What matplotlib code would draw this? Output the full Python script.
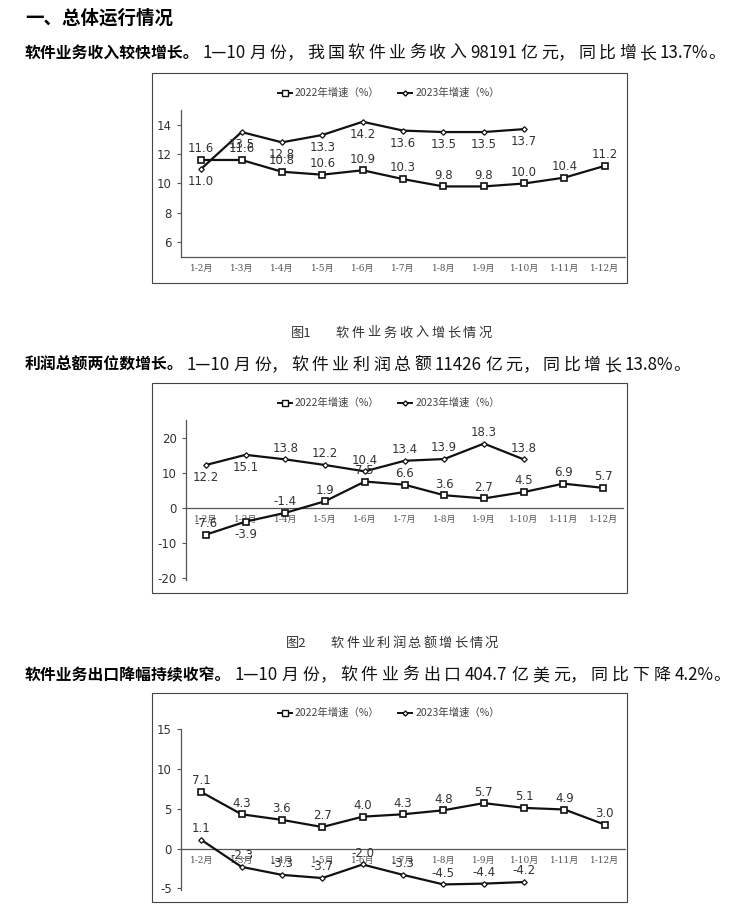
import matplotlib
matplotlib.use("Agg")
import matplotlib.pyplot as plt
from matplotlib.patches import Rectangle
from matplotlib.lines import Line2D

W, H = 741, 905
CJK = ['Noto Sans CJK SC', 'DejaVu Sans']
SERIF = ['DejaVu Serif', 'Noto Sans CJK SC']
plt.rcParams['font.family'] = CJK
plt.rcParams['axes.unicode_minus'] = False

# categories
months = ['1-2月', '1-3月', '1-4月', '1-5月', '1-6月', '1-7月',
          '1-8月', '1-9月', '1-10月', '1-11月', '1-12月']

# chart 1: software business revenue growth
rev_2022 = [11.6, 11.6, 10.8, 10.6, 10.9, 10.3, 9.8, 9.8, 10.0, 10.4, 11.2]
rev_2023 = [11.0, 13.5, 12.8, 13.3, 14.2, 13.6, 13.5, 13.5, 13.7]

# chart 2: total profit growth
profit_2022 = [-7.6, -3.9, -1.4, 1.9, 7.5, 6.6, 3.6, 2.7, 4.5, 6.9, 5.7]
profit_2023 = [12.2, 15.1, 13.8, 12.2, 10.4, 13.4, 13.9, 18.3, 13.8]

# chart 3: software export growth
export_2022 = [7.1, 4.3, 3.6, 2.7, 4.0, 4.3, 4.8, 5.7, 5.1, 4.9, 3.0]
export_2023 = [1.1, -2.3, -3.3, -3.7, -2.0, -3.3, -4.5, -4.4, -4.2]

LINE_C = '#111111'
TEXT_C = '#333333'


def fx(px):
    return px / W


def fy(py):
    return 1 - py / H


fig = plt.figure(figsize=(W / 100, H / 100), dpi=100)
renderer = fig.canvas.get_renderer()


def is_wide(c):
    return '\u3000' <= c <= '\u9fff' or '\uff00' <= c <= '\uffef'


def tokens(s):
    out = []
    for c in s:
        if is_wide(c) or not out or is_wide(out[-1][-1]):
            out.append(c)
        else:
            out[-1] += c
    return out


def spaced_text(x0, x1, y, s, **kw):
    # loosely set line: each CJK char placed on its own with extra space,
    # runs of digits kept together, no extra space before ，。
    toks = tokens(s)
    widths = []
    for tk in toks:
        t = fig.text(0, 0, tk, **kw)
        widths.append(t.get_window_extent(renderer).width)
        t.remove()
    spaced = [toks[i + 1] not in ('，', '。') for i in range(len(toks) - 1)]
    gap = (x1 - x0 - sum(widths)) / max(sum(spaced), 1)
    x = x0
    for i, (tk, w) in enumerate(zip(toks, widths)):
        if tk.strip():
            fig.text(fx(x), fy(y), tk, va='center', ha='left', **kw)
        x += w
        if i < len(spaced) and spaced[i]:
            x += gap


def paragraph(y, bold_part, rest, end_x):
    t = fig.text(fx(25), fy(y), bold_part, fontsize=11.4, fontweight='bold',
                 va='center', ha='left', color='black')
    bb = t.get_window_extent(renderer)
    spaced_text(bb.x1 + 3, end_x, y, rest, fontsize=12.2, color='#111111')


def frame(top, bottom, left=152, right=627):
    fig.patches.append(Rectangle((fx(left), fy(bottom)), (right - left) / W,
                                 (bottom - top) / H, transform=fig.transFigure,
                                 fill=False, ec='#444444', lw=0.8))


def chart(axbox, ylim, yticks, s22, s23, pos22, pos23, legend_y, zero_axis):
    left, top, right, bottom = axbox
    ax = fig.add_axes([fx(left), fy(bottom), (right - left) / W, (bottom - top) / H])
    if zero_axis:
        ax.spines['bottom'].set_position(('data', 0))
    x22 = list(range(len(s22)))
    x23 = list(range(len(s23)))
    ax.plot(x22, s22, color=LINE_C, lw=1.6, marker='s', ms=4.5,
            mfc='white', mec=LINE_C, mew=1.2, zorder=3)
    ax.plot(x23, s23, color=LINE_C, lw=1.6, marker='D', ms=2.8,
            mfc='white', mec=LINE_C, mew=0.9, zorder=3)
    for xs, ys, pos in ((x22, s22, pos22), (x23, s23, pos23)):
        for x, y, p in zip(xs, ys, pos):
            off = 8 if p == 'a' else -9
            ax.annotate(f'{y:.1f}', (x, y), xytext=(0, off), textcoords='offset points',
                        ha='center', va='center', fontsize=8.5, color=TEXT_C,
                        family='DejaVu Sans')
    ax.set_xlim(-0.5, len(months) - 0.5)
    ax.set_ylim(*ylim)
    ax.set_yticks(yticks)
    ax.set_yticklabels([str(v) for v in yticks], family='DejaVu Sans')
    ax.set_xticks(range(len(months)))
    ax.set_xticklabels(months, family=SERIF, fontsize=6.5, color='#555555')
    ax.tick_params(axis='y', labelsize=8.5, labelcolor=TEXT_C, length=3,
                   width=0.8, color='#555555', direction='out')
    ax.tick_params(axis='x', length=0, pad=5)
    for side in ('top', 'right'):
        ax.spines[side].set_visible(False)
    for side in ('left', 'bottom'):
        ax.spines[side].set_color('#555555')
        ax.spines[side].set_linewidth(0.9)
    ax.patch.set_alpha(0)

    handles = [
        Line2D([], [], color=LINE_C, lw=1.4, marker='s', ms=4, mfc='white', mec=LINE_C),
        Line2D([], [], color=LINE_C, lw=1.4, marker='D', ms=2.6, mfc='white', mec=LINE_C),
    ]
    fig.legend(handles, ['2022年增速（%）', '2023年增速（%）'], loc='center',
               bbox_to_anchor=(fx(389), fy(legend_y)), ncol=2, frameon=False,
               fontsize=7.5, handlelength=1.3, handletextpad=0.3, columnspacing=1.8,
               labelcolor='#444444')
    return ax


# header text
fig.text(fx(25), fy(18), '一、总体运行情况', fontsize=13.3, fontweight='bold',
         va='center', ha='left')
paragraph(53, '软件业务收入较快增长。', '1—10月份，我国软件业务收入98191亿元，同比增长13.7%。', 725)

frame(73, 283)
chart((181, 110, 625, 257), (5, 15), [6, 8, 10, 12, 14], rev_2022, rev_2023,
      ['a'] * 11, ['b'] * 9, 93, False)
fig.text(fx(291), fy(333), '图1', fontsize=9.5, color='#333333', va='center', ha='left')
spaced_text(336, 492, 333, '软件业务收入增长情况', fontsize=9.5, color='#333333')

paragraph(365, '利润总额两位数增长。', '1—10月份，软件业利润总额11426亿元，同比增长13.8%。', 690)

frame(383, 593)
chart((186, 420, 623, 580), (-20.5, 25), [-20, -10, 0, 10, 20], profit_2022, profit_2023,
      ['a', 'b', 'a', 'a', 'a', 'a', 'a', 'a', 'a', 'a', 'a'],
      ['b', 'b', 'a', 'a', 'a', 'a', 'a', 'a', 'a'], 403, True)
fig.text(fx(286), fy(643), '图2', fontsize=9.5, color='#333333', va='center', ha='left')
spaced_text(331, 498, 643, '软件业利润总额增长情况', fontsize=9.5, color='#333333')

paragraph(675, '软件业务出口降幅持续收窄。', '1—10月份，软件业务出口404.7亿美元，同比下降4.2%。', 730)

frame(693, 902)
chart((181, 729, 625, 890), (-5.2, 15), [-5, 0, 5, 10, 15], export_2022, export_2023,
      ['a'] * 11, ['a'] * 9, 713, True)

fig.savefig('out.png', dpi=100)
